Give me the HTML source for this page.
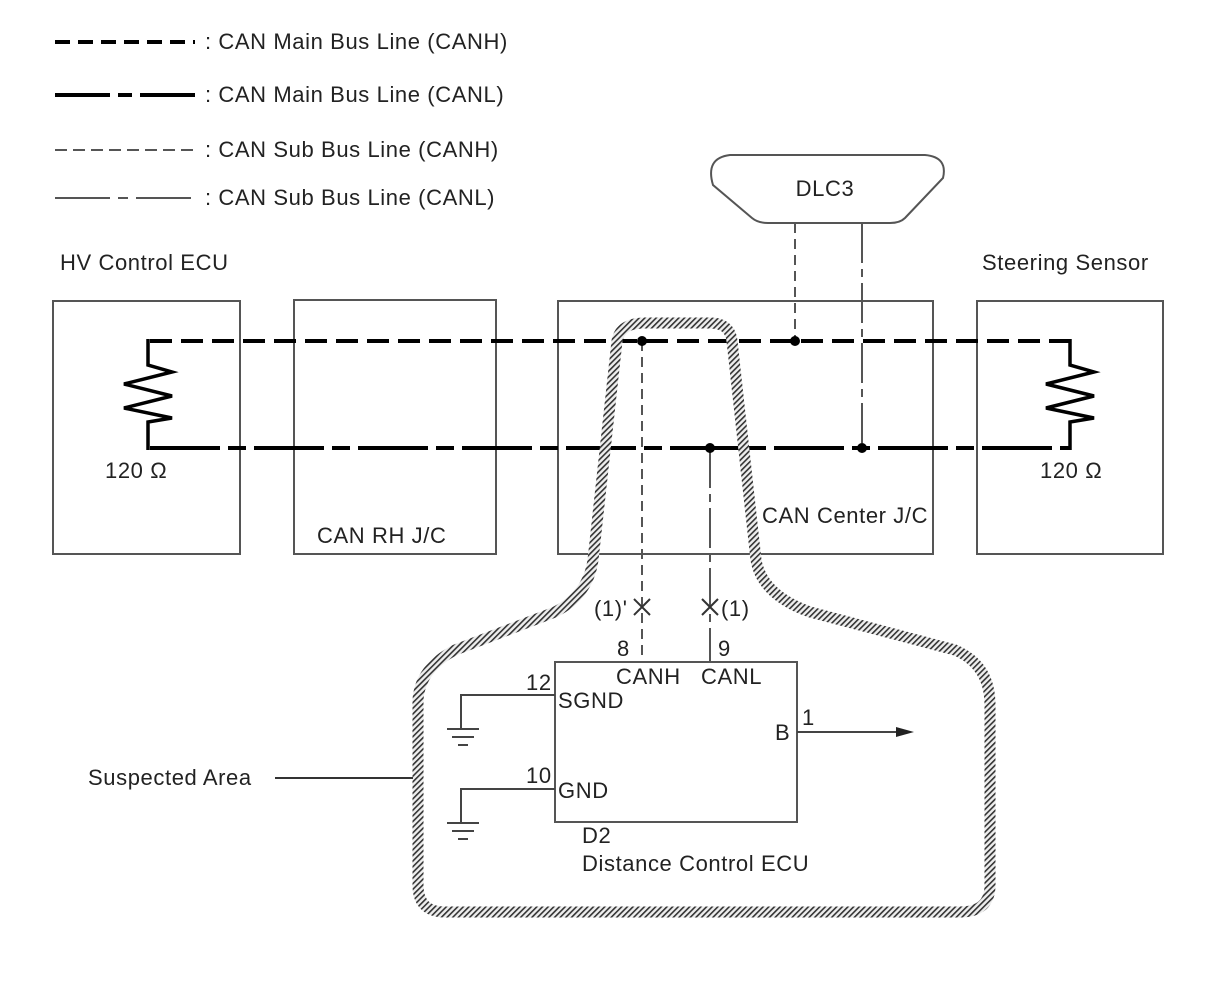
<!DOCTYPE html>
<html><head><meta charset="utf-8"><style>
html,body{margin:0;padding:0;background:#fff}
svg{display:block}
text{font-family:"Liberation Sans",Arial,sans-serif;font-size:22px;letter-spacing:0.6px;fill:#222}
</style></head><body>
<svg width="1208" height="984" viewBox="0 0 1208 984" xmlns="http://www.w3.org/2000/svg">
<defs>
<pattern id="h" width="4" height="4" patternUnits="userSpaceOnUse" patternTransform="rotate(45)">
<rect width="4" height="4" fill="#eee"/><rect width="1.6" height="4" fill="#333"/>
</pattern>
</defs>
<!-- legend -->
<g fill="none">
<line x1="55" y1="42" x2="195" y2="42" stroke="#000" stroke-width="4" stroke-dasharray="15 8"/>
<line x1="55" y1="95" x2="195" y2="95" stroke="#000" stroke-width="4" stroke-dasharray="55 8 14 8"/>
<line x1="55" y1="150" x2="195" y2="150" stroke="#555" stroke-width="2" stroke-dasharray="12 6"/>
<line x1="55" y1="198" x2="195" y2="198" stroke="#555" stroke-width="2" stroke-dasharray="55 8 10 8"/>
</g>
<text x="205" y="49">: CAN Main Bus Line (CANH)</text>
<text x="205" y="102">: CAN Main Bus Line (CANL)</text>
<text x="205" y="157">: CAN Sub Bus Line (CANH)</text>
<text x="205" y="205">: CAN Sub Bus Line (CANL)</text>

<!-- DLC3 -->
<path d="M730 155 L925 155 Q948 157 943 178 L905 218 Q900 223 890 223 L768 223 Q758 223 752 218 L713 185 Q705 158 730 155 Z" fill="#fff" stroke="#555" stroke-width="2"/>
<text x="825" y="196" text-anchor="middle">DLC3</text>

<!-- boxes -->
<g fill="none" stroke="#555" stroke-width="2">
<rect x="53" y="301" width="187" height="253"/>
<rect x="294" y="300" width="202" height="254"/>
<rect x="558" y="301" width="375" height="253"/>
<rect x="977" y="301" width="186" height="253"/>
<rect x="555" y="662" width="242" height="160"/>
</g>
<text x="60" y="270">HV Control ECU</text>
<text x="982" y="270">Steering Sensor</text>
<text x="105" y="478">120 Ω</text>
<text x="1040" y="478">120 Ω</text>
<text x="317" y="543">CAN RH J/C</text>
<text x="762" y="523">CAN Center J/C</text>

<!-- sub lines -->
<g fill="none" stroke="#555" stroke-width="2">
<line x1="795" y1="223" x2="795" y2="341" stroke-dasharray="10 6"/>
<line x1="862" y1="223" x2="862" y2="448" stroke-dasharray="40 6 8 6"/>
<line x1="642" y1="341" x2="642" y2="662" stroke-dasharray="10 6"/>
<line x1="710" y1="448" x2="710" y2="662" stroke-dasharray="40 6 8 6"/>
</g>

<!-- main bus -->
<g fill="none" stroke="#000" stroke-width="4">
<line x1="150" y1="341" x2="1070" y2="341" stroke-dasharray="22 9"/>
<line x1="150" y1="448" x2="1070" y2="448" stroke-dasharray="70 8 18 8"/>
<path d="M148 339 V365 L172 372 L124 384 L172 396 L124 408 L172 418 L148 422 V450" stroke-width="3.5"/>
<path d="M1070 339 V365 L1094 372 L1046 384 L1094 396 L1046 408 L1094 418 L1070 422 V450" stroke-width="3.5"/>
</g>
<g fill="#000">
<circle cx="642" cy="341" r="5"/><circle cx="795" cy="341" r="5"/>
<circle cx="710" cy="448" r="5"/><circle cx="862" cy="448" r="5"/>
</g>

<!-- suspected area -->
<path d="M617 341 Q620 323 645 323 L710 323 Q730 323 732 341 L756 560 Q762 595 810 612 L955 650 Q990 665 990 705 L990 885 Q990 912 960 912 L445 912 Q418 912 418 885 L418 700 Q420 668 455 650 L555 612 Q588 595 593 560 Z" fill="none" stroke="url(#h)" stroke-width="11"/>
<line x1="275" y1="778" x2="413" y2="778" stroke="#333" stroke-width="2"/>
<text x="88" y="785">Suspected Area</text>

<!-- X marks -->
<g stroke="#333" stroke-width="2">
<line x1="634" y1="599" x2="650" y2="615"/><line x1="650" y1="599" x2="634" y2="615"/>
<line x1="702" y1="599" x2="718" y2="615"/><line x1="718" y1="599" x2="702" y2="615"/>
</g>
<text x="594" y="616">(1)'</text>
<text x="721" y="616">(1)</text>
<text x="617" y="656">8</text>
<text x="718" y="656">9</text>
<text x="616" y="684">CANH</text>
<text x="701" y="684">CANL</text>
<text x="526" y="690">12</text>
<text x="558" y="708">SGND</text>
<text x="526" y="783">10</text>
<text x="558" y="798">GND</text>
<text x="775" y="740">B</text>
<text x="802" y="725">1</text>
<text x="582" y="843">D2</text>
<text x="582" y="871">Distance Control ECU</text>

<!-- grounds and B -->
<g fill="none" stroke="#444" stroke-width="2">
<path d="M555 695 H461 V729"/>
<line x1="447" y1="729" x2="479" y2="729"/><line x1="452" y1="737" x2="474" y2="737"/><line x1="458" y1="745" x2="468" y2="745"/>
<path d="M555 789 H461 V823"/>
<line x1="447" y1="823" x2="479" y2="823"/><line x1="452" y1="831" x2="474" y2="831"/><line x1="458" y1="839" x2="468" y2="839"/>
<line x1="797" y1="732" x2="898" y2="732"/>
</g>
<path d="M914 732 L896 727 L896 737 Z" fill="#222"/>
</svg>
</body></html>
